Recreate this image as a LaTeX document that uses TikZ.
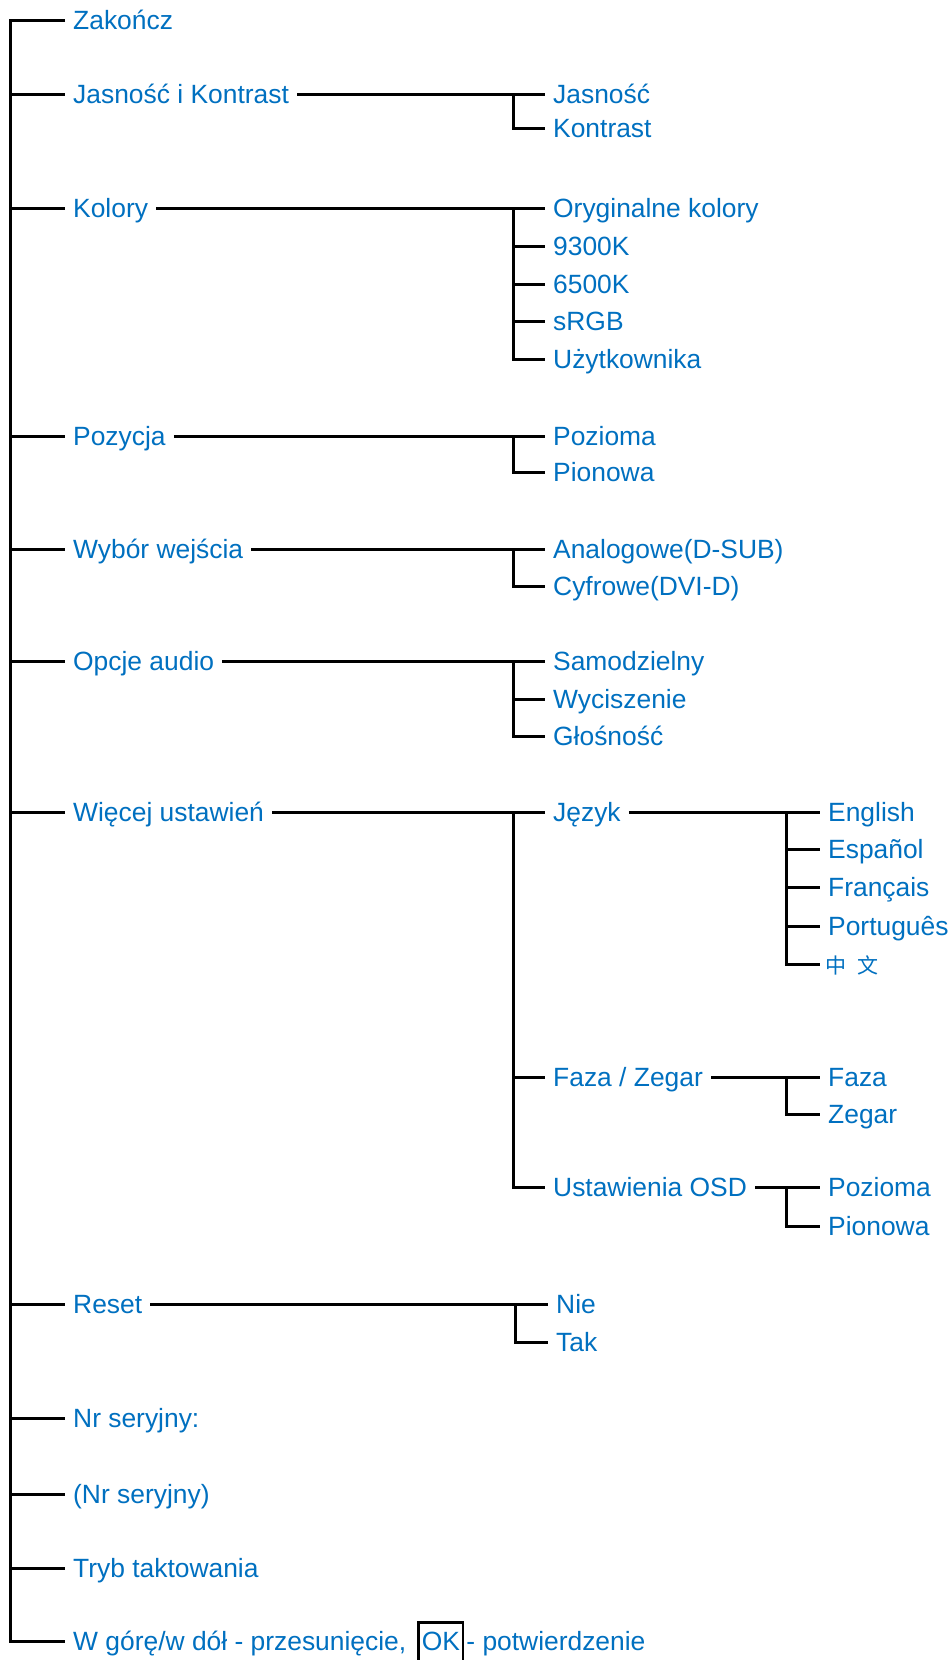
\documentclass[tikz,border=0pt]{standalone}
\usepackage{fontspec}
\setmainfont{Liberation Sans}
\newfontfamily\cjk{Noto Sans CJK SC}
\definecolor{menublue}{HTML}{0070C0}
\begin{document}
\begin{tikzpicture}[x=1pt,y=-1pt,
  item/.style={anchor=west, inner xsep=8pt, inner ysep=0pt, text height=18.8pt,
    text depth=0pt, text=menublue, font=\fontsize{26.4}{30}\selectfont},
  link/.style={line width=3pt, draw=black},
  okbox/.style={item, draw=black, line width=2.6pt, anchor=base west,
    inner xsep=3pt, inner ysep=9pt, text depth=14pt},
]
\clip (0,0) rectangle (952,1660);
\fill[white] (0,0) rectangle (952,1660);

% columns of the tree
\coordinate (spine) at (10,0);
\coordinate (forkb) at (513,0);
\coordinate (forkc) at (786,0);

% main menu
\node[item] (zak)  at (65,20)   {Zakończ};
\node[item] (jk)   at (65,94)   {Jasność i Kontrast};
\node[item] (kol)  at (65,208)  {Kolory};
\node[item] (poz)  at (65,436)  {Pozycja};
\node[item] (wyb)  at (65,549)  {Wybór wejścia};
\node[item] (aud)  at (65,661)  {Opcje audio};
\node[item] (wiec) at (65,812)  {Więcej ustawień};
\node[item] (res)  at (65,1304) {Reset};
\node[item] (nr)   at (65,1418) {Nr seryjny:};
\node[item] (nrv)  at (65,1494) {(Nr seryjny)};
\node[item] (tryb) at (65,1568) {Tryb taktowania};
\node[item] (wg)   at (65,1641) {W górę/w dół - przesunięcie,};
\node[okbox, xshift=3pt] (ok) at (wg.base east) {OK};
\node[item, anchor=base west, inner xsep=2pt] (pot) at (ok.base east) {- potwierdzenie};

% second level
\node[item] (jas)  at (545,94)   {Jasność};
\node[item] (kon)  at (545,128)  {Kontrast};
\node[item] (ory)  at (545,208)  {Oryginalne kolory};
\node[item] (k93)  at (545,246)  {9300K};
\node[item] (k65)  at (545,284)  {6500K};
\node[item] (srgb) at (545,321)  {sRGB};
\node[item] (uzyt) at (545,359)  {Użytkownika};
\node[item] (poh)  at (545,436)  {Pozioma};
\node[item] (pov)  at (545,472)  {Pionowa};
\node[item] (ana)  at (545,549)  {Analogowe(D-SUB)};
\node[item] (cyf)  at (545,586)  {Cyfrowe(DVI-D)};
\node[item] (sam)  at (545,661)  {Samodzielny};
\node[item] (wyc)  at (545,699)  {Wyciszenie};
\node[item] (glo)  at (545,736)  {Głośność};
\node[item] (jez)  at (545,812)  {Język};
\node[item] (fzg)  at (545,1077) {Faza / Zegar};
\node[item] (osd)  at (545,1187) {Ustawienia OSD};
\node[item] (nie)  at (548,1304) {Nie};
\node[item] (tak)  at (548,1342) {Tak};

% third level
\node[item] (eng)  at (820,812)  {English};
\node[item] (esp)  at (820,849)  {Español};
\node[item] (fra)  at (820,887)  {Français};
\node[item] (por)  at (820,926)  {Português};
\node[item, font=\cjk\fontsize{21}{24}\selectfont, inner xsep=5pt] (zh) at (820,964) {中\hspace{11pt}文};
\node[item] (faz)  at (820,1077) {Faza};
\node[item] (zeg)  at (820,1114) {Zegar};
\node[item] (osh)  at (820,1187) {Pozioma};
\node[item] (osv)  at (820,1226) {Pionowa};

% main spine
\draw[link] (zak.west) -| (spine |- wg.west) -- (wg.west);
\foreach \n in {jk,kol,poz,wyb,aud,wiec,res,nr,nrv,tryb}
  \draw[link] (spine |- \n.west) -- (\n.west);

% second-level branches
\draw[link] (jk.east) -- (jas.west);
\draw[link] (forkb |- jas.west) |- (kon.west);

\draw[link] (kol.east) -- (ory.west);
\draw[link] (forkb |- ory.west) |- (uzyt.west);
\foreach \n in {k93,k65,srgb}
  \draw[link] (forkb |- \n.west) -- (\n.west);

\draw[link] (poz.east) -- (poh.west);
\draw[link] (forkb |- poh.west) |- (pov.west);

\draw[link] (wyb.east) -- (ana.west);
\draw[link] (forkb |- ana.west) |- (cyf.west);

\draw[link] (aud.east) -- (sam.west);
\draw[link] (forkb |- sam.west) |- (glo.west);
\draw[link] (forkb |- wyc.west) -- (wyc.west);

\draw[link] (wiec.east) -- (jez.west);
\draw[link] (forkb |- jez.west) |- (osd.west);
\draw[link] (forkb |- fzg.west) -- (fzg.west);

\draw[link] (res.east) -- (nie.west);
\draw[link] ([xshift=2pt]forkb |- nie.west) |- (tak.west);

% third-level branches
\draw[link] (jez.east) -- (eng.west);
\draw[link] (forkc |- eng.west) |- (zh.west);
\foreach \n in {esp,fra,por}
  \draw[link] (forkc |- \n.west) -- (\n.west);

\draw[link] (fzg.east) -- (faz.west);
\draw[link] (forkc |- faz.west) |- (zeg.west);

\draw[link] (osd.east) -- (osh.west);
\draw[link] (forkc |- osh.west) |- (osv.west);
\end{tikzpicture}
\end{document}
